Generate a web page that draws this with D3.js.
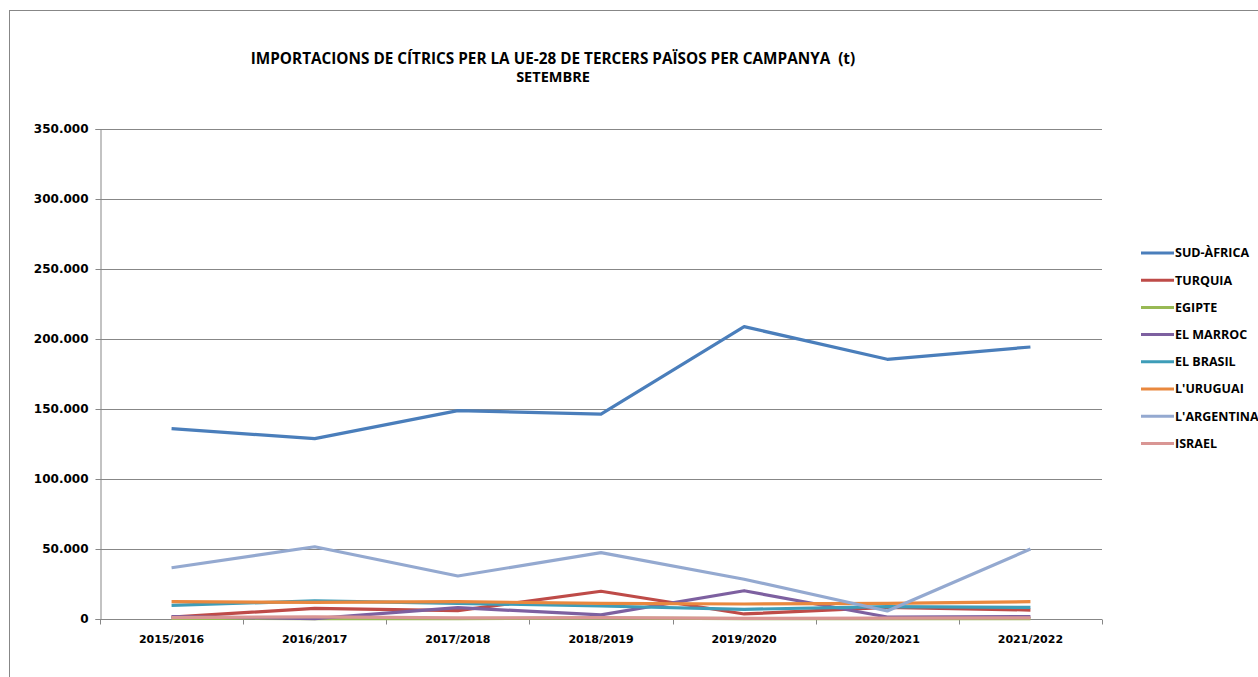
<!DOCTYPE html>
<html>
<head>
<meta charset="utf-8">
<script src="https://cdn.jsdelivr.net/npm/d3@7"></script>
<style>
  body { margin: 0; background: #fff; }
  svg { display: block; }
</style>
</head>
<body>
<div class="chart"></div>
<script>
// campaigns and imports (t) per country, september
var campaigns = ["2015/2016", "2016/2017", "2017/2018", "2018/2019", "2019/2020", "2020/2021", "2021/2022"];
var y_ticks = [0, 50000, 100000, 150000, 200000, 250000, 300000, 350000];

var sud_africa = [136000, 128800, 148800, 146400, 208800, 185500, 194300];
var turquia    = [1400, 7600, 6000, 19800, 3600, 8300, 6400];
var egipte     = [400, 300, 200, 700, 200, 300, 300];
var el_marroc  = [1700, 300, 8100, 2900, 20200, 1400, 1700];
var el_brasil  = [9800, 12900, 11200, 9300, 6900, 8800, 8300];
var l_uruguai  = [12400, 11900, 12400, 11200, 10700, 11200, 12400];
var l_argentina = [36600, 51600, 30700, 47400, 28400, 5700, 50000];
var israel     = [1000, 1500, 800, 1000, 500, 600, 800];

var series = [
  { name: "SUD-ÀFRICA", values: sud_africa, color: "#4a7ebb" },
  { name: "TURQUIA", values: turquia, color: "#be4b48" },
  { name: "EGIPTE", values: egipte, color: "#98b954" },
  { name: "EL MARROC", values: el_marroc, color: "#7d60a0" },
  { name: "EL BRASIL", values: el_brasil, color: "#3e9db8" },
  { name: "L'URUGUAI", values: l_uruguai, color: "#e9883e" },
  { name: "L'ARGENTINA", values: l_argentina, color: "#94a9d0" },
  { name: "ISRAEL", values: israel, color: "#d99694" }
];

var width = 1258, height = 677;
var margin = { top: 129, left: 100, right: 156, bottom: 58 };
var inner_width = width - margin.left - margin.right;
var inner_height = height - margin.top - margin.bottom;
var grid_color = "#878787";

var svg = d3.select(".chart").append("svg")
  .attr("width", width)
  .attr("height", height);

// outer chart border
svg.append("rect")
  .attr("x", 9.5).attr("y", 10.5)
  .attr("width", width + 10).attr("height", height + 10)
  .attr("fill", "none")
  .attr("stroke", grid_color);

svg.append("text")
  .attr("x", 553).attr("y", 64)
  .attr("text-anchor", "middle")
  .attr("xml:space", "preserve")
  .style("font-family", "'Open Sans', sans-serif")
  .style("font-weight", "bold")
  .style("font-size", "15.3px")
  .attr("fill", "#000")
  .text("IMPORTACIONS DE CÍTRICS PER LA UE-28 DE TERCERS PAÏSOS PER CAMPANYA  (t)");
svg.append("text")
  .attr("x", 553).attr("y", 82)
  .attr("text-anchor", "middle")
  .style("font-family", "'Open Sans', sans-serif")
  .style("font-weight", "bold")
  .style("font-size", "14.5px")
  .text("SETEMBRE");

var g = svg.append("g")
  .attr("transform", "translate(" + margin.left + "," + margin.top + ")");

var x_band = d3.scaleBand()
  .domain(campaigns)
  .range([0, inner_width])
  .padding(0);

var y_scale = d3.scaleLinear()
  .domain([0, 350000])
  .range([inner_height, 0]);

var fmt = d3.formatLocale({ decimal: ",", thousands: ".", grouping: [3], currency: ["", ""] }).format(",.0f");

// gridlines
g.selectAll(".grid").data(y_ticks.slice(1))
  .enter().append("line")
    .attr("class", "grid")
    .attr("x1", 0).attr("x2", inner_width)
    .attr("y1", d => Math.round(y_scale(d)) + 0.5)
    .attr("y2", d => Math.round(y_scale(d)) + 0.5)
    .attr("stroke", grid_color);

var y_axis = g.append("g")
  .attr("transform", "translate(0.5,0)")
  .call(d3.axisLeft(y_scale).tickValues(y_ticks).tickFormat(fmt).tickSize(5).tickPadding(7));
var x_axis = g.append("g")
  .attr("transform", "translate(0," + (inner_height + 0.5) + ")")
  .call(d3.axisBottom(x_band).tickSize(0).tickPadding(16));

// ticks at band boundaries
x_axis.selectAll(".bound").data(campaigns.concat(["end"]))
  .enter().append("line")
    .attr("class", "bound")
    .attr("x1", (d, i) => Math.round(i * x_band.step()) + 0.5)
    .attr("x2", (d, i) => Math.round(i * x_band.step()) + 0.5)
    .attr("y1", 0).attr("y2", 5)
    .attr("stroke", grid_color);

[y_axis, x_axis].forEach(ax => {
  ax.select(".domain").attr("stroke", grid_color);
  ax.selectAll(".tick line").attr("stroke", grid_color);
  ax.selectAll("text")
    .style("font-family", "'DejaVu Sans', sans-serif")
    .style("font-weight", "bold")
    .style("font-size", "11px")
    .attr("fill", "#000");
});
y_axis.selectAll("text").style("font-size", "12px");
x_axis.select(".domain").attr("d", "M0,0H" + inner_width);

var line = d3.line()
  .x((d, i) => x_band(campaigns[i]) + x_band.bandwidth() / 2)
  .y(d => y_scale(d));

g.selectAll(".series").data(series)
  .enter().append("path")
    .attr("class", "series")
    .attr("d", d => line(d.values))
    .attr("fill", "none")
    .attr("stroke", d => d.color)
    .attr("stroke-width", 3.2)
    .attr("stroke-linejoin", "round");

// legend
var legend = svg.append("g").attr("transform", "translate(1141,253)");
var items = legend.selectAll(".item").data(series)
  .enter().append("g")
    .attr("transform", (d, i) => "translate(0," + (i * 27.2) + ")");
items.append("line")
  .attr("x1", 0).attr("x2", 33)
  .attr("stroke", d => d.color)
  .attr("stroke-width", 3);
items.append("text")
  .attr("x", 34).attr("dy", "0.35em")
  .style("font-family", "'Open Sans', sans-serif")
  .style("font-weight", "bold")
  .style("font-size", "12.5px")
  .text(d => d.name);
</script>
</body>
</html>
